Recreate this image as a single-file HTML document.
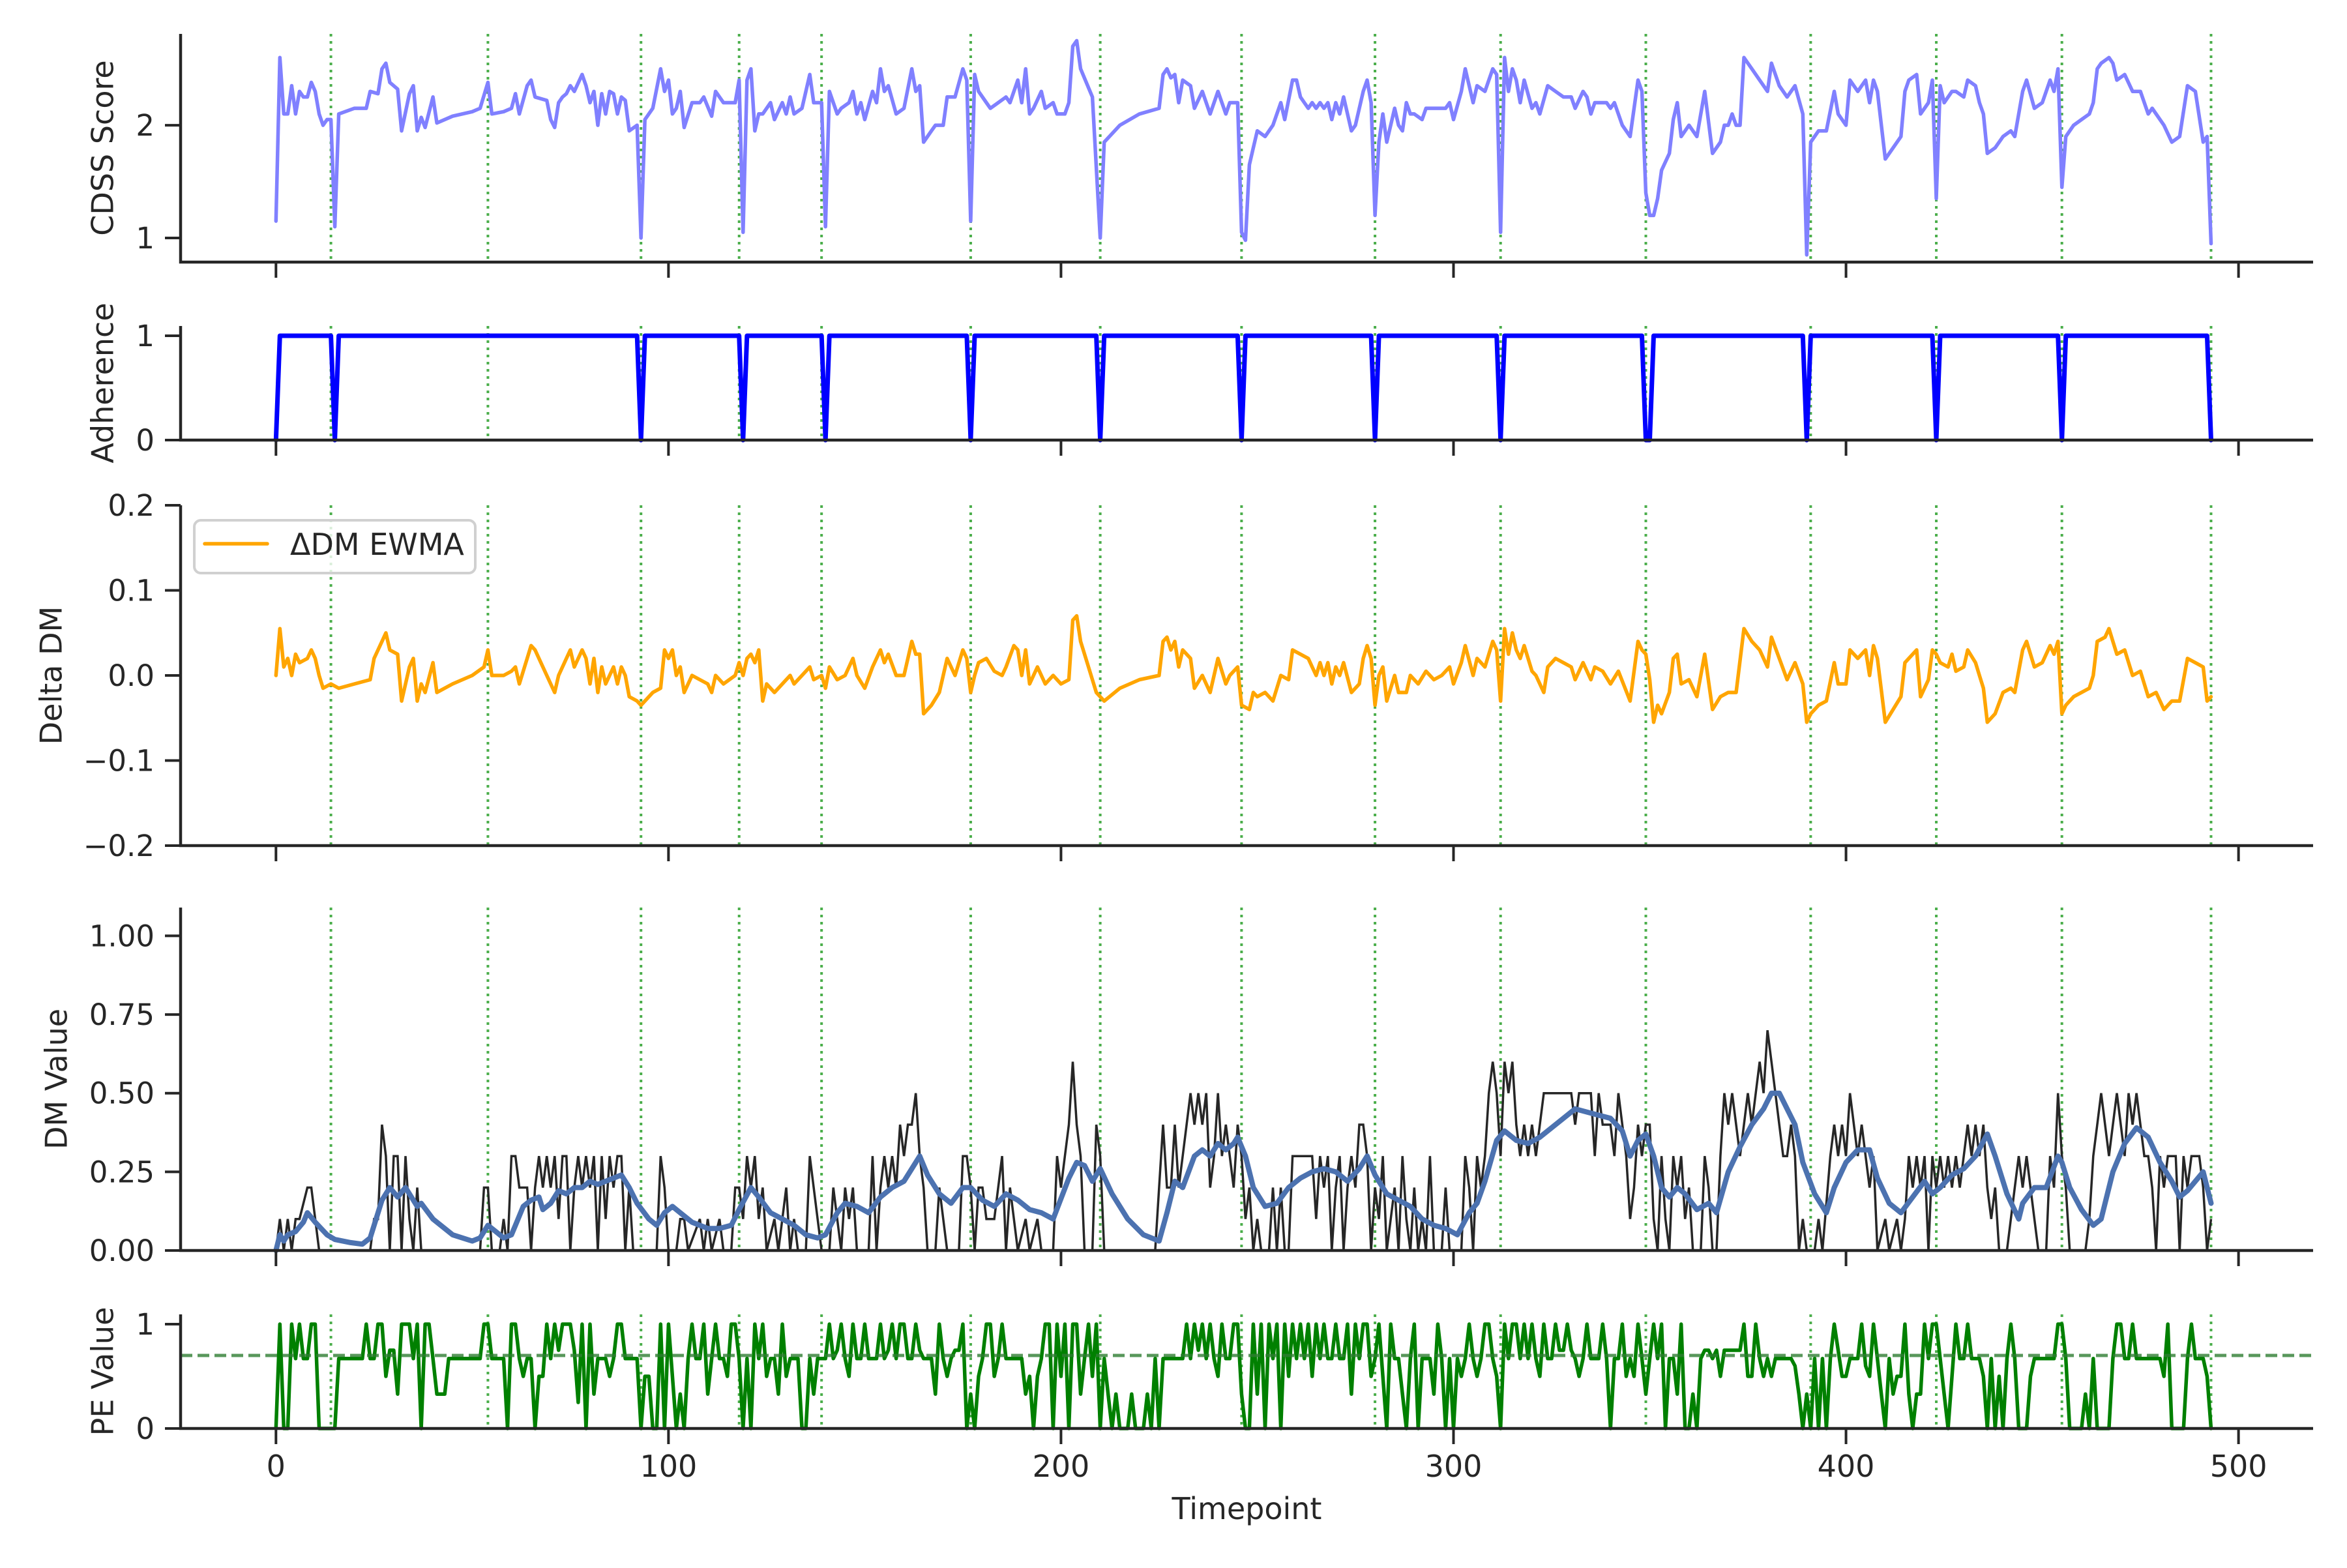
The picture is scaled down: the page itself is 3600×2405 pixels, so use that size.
<!DOCTYPE html>
<html><head><meta charset="utf-8"><style>
html,body{margin:0;padding:0;background:#fff}
svg text{font-family:"DejaVu Sans","Liberation Sans",sans-serif;fill:#262626}
</style></head><body>
<svg id="chart" xmlns="http://www.w3.org/2000/svg" width="3600" height="2400" viewBox="0 0 3600 2400">
<g id="root"></g>
</svg>
<script>
const eventTimes=[14,54,93,118,139,177,210,246,280,312,349,391,423,455,493];
const xTicks=[0,100,200,300,400,500];
const cdssPts=[[0,1.15],[1,2.6],[2,2.1],[3,2.1],[4,2.35],[5,2.1],[6,2.3],[7,2.25],[8,2.25],[9,2.38],[10,2.3],[11,2.1],[12,2.0],[13,2.05],[14,2.05],[15,1.1],[16,2.1],[20,2.15],[23,2.15],[24,2.3],[26,2.28],[27,2.5],[28,2.55],[29,2.38],[31,2.32],[32,1.95],[34,2.28],[35,2.35],[36,1.95],[37,2.07],[38,1.98],[40,2.25],[41,2.02],[45,2.08],[50,2.12],[52,2.15],[54,2.38],[55,2.1],[58,2.12],[60,2.15],[61,2.28],[62,2.1],[64,2.35],[65,2.4],[66,2.25],[69,2.22],[70,2.05],[71,1.98],[72,2.2],[73,2.25],[74,2.28],[75,2.35],[76,2.3],[78,2.45],[79,2.35],[80,2.2],[81,2.3],[82,2.0],[83,2.28],[84,2.1],[85,2.3],[86,2.28],[87,2.1],[88,2.25],[89,2.22],[90,1.95],[92,2.0],[93,1.0],[94,2.05],[96,2.15],[98,2.5],[99,2.3],[100,2.4],[101,2.1],[102,2.15],[103,2.3],[104,1.98],[106,2.2],[108,2.2],[109,2.25],[111,2.08],[112,2.3],[114,2.2],[117,2.2],[118,2.4],[119,1.05],[120,2.4],[121,2.5],[122,1.95],[123,2.1],[124,2.1],[126,2.2],[127,2.05],[129,2.2],[130,2.1],[131,2.25],[132,2.1],[134,2.15],[136,2.45],[137,2.2],[139,2.2],[140,1.1],[141,2.3],[143,2.1],[144,2.15],[146,2.2],[147,2.3],[148,2.1],[149,2.2],[150,2.05],[152,2.3],[153,2.2],[154,2.5],[155,2.3],[156,2.35],[158,2.1],[160,2.15],[162,2.5],[163,2.3],[164,2.35],[165,1.85],[167,1.95],[168,2.0],[170,2.0],[171,2.25],[173,2.25],[175,2.5],[176,2.4],[177,1.15],[178,2.45],[179,2.3],[181,2.2],[182,2.15],[184,2.2],[186,2.25],[187,2.2],[188,2.3],[189,2.4],[190,2.2],[191,2.5],[192,2.1],[193,2.15],[195,2.3],[196,2.15],[198,2.2],[199,2.1],[201,2.1],[202,2.2],[203,2.7],[204,2.75],[205,2.5],[208,2.25],[210,1.0],[211,1.85],[215,2.0],[220,2.1],[225,2.15],[226,2.45],[227,2.5],[228,2.42],[229,2.45],[230,2.2],[231,2.4],[233,2.35],[234,2.15],[236,2.3],[238,2.1],[240,2.3],[242,2.1],[243,2.2],[245,2.2],[246,1.05],[247,0.98],[248,1.65],[249,1.8],[250,1.95],[252,1.9],[254,2.0],[256,2.2],[257,2.05],[259,2.4],[260,2.4],[261,2.25],[262,2.2],[263,2.15],[264,2.2],[265,2.15],[266,2.2],[267,2.15],[268,2.2],[269,2.05],[270,2.2],[271,2.1],[272,2.25],[274,1.95],[275,2.0],[277,2.3],[278,2.4],[279,2.2],[280,1.2],[281,1.85],[282,2.1],[283,1.85],[285,2.15],[286,2.0],[287,1.95],[288,2.2],[289,2.1],[290,2.1],[292,2.05],[293,2.15],[296,2.15],[298,2.15],[299,2.2],[300,2.05],[302,2.3],[303,2.5],[305,2.2],[306,2.35],[308,2.3],[310,2.5],[311,2.45],[312,1.05],[313,2.6],[314,2.3],[315,2.5],[316,2.4],[317,2.2],[318,2.4],[320,2.15],[321,2.2],[322,2.1],[324,2.35],[326,2.3],[328,2.25],[330,2.25],[331,2.15],[333,2.3],[334,2.25],[335,2.1],[336,2.2],[337,2.2],[339,2.2],[340,2.15],[341,2.2],[343,2.0],[345,1.9],[347,2.4],[348,2.3],[349,1.4],[350,1.2],[351,1.2],[352,1.35],[353,1.6],[355,1.75],[356,2.05],[357,2.2],[358,1.9],[360,2.0],[362,1.9],[364,2.3],[366,1.75],[368,1.85],[369,2.0],[370,2.0],[371,2.1],[372,2.0],[373,2.0],[374,2.6],[376,2.5],[378,2.4],[380,2.3],[381,2.55],[383,2.35],[385,2.25],[387,2.35],[389,2.1],[390,0.85],[391,1.85],[393,1.95],[395,1.95],[397,2.3],[398,2.1],[400,2.0],[401,2.4],[403,2.3],[405,2.4],[406,2.2],[407,2.4],[408,2.3],[410,1.7],[412,1.8],[414,1.9],[415,2.3],[416,2.4],[418,2.45],[419,2.1],[421,2.2],[422,2.4],[423,1.35],[424,2.35],[425,2.2],[427,2.3],[428,2.3],[430,2.25],[431,2.4],[433,2.35],[434,2.2],[435,2.1],[436,1.75],[438,1.8],[440,1.9],[442,1.95],[443,1.9],[445,2.3],[446,2.4],[448,2.15],[450,2.2],[452,2.4],[453,2.3],[454,2.5],[455,1.45],[456,1.9],[458,2.0],[460,2.05],[462,2.1],[463,2.2],[464,2.5],[465,2.55],[467,2.6],[468,2.55],[469,2.4],[471,2.45],[473,2.3],[475,2.3],[477,2.1],[478,2.15],[480,2.05],[481,2.0],[483,1.85],[485,1.9],[487,2.35],[489,2.3],[491,1.85],[492,1.9],[493,0.95]];
const adherenceZeros=[0,15,93,119,140,177,210,246,280,312,349,350,390,423,455,493];
const adherenceEnd=493;
const deltaPts=[[0,0],[1,0.055],[2,0.01],[3,0.02],[4,0.0],[5,0.025],[6,0.015],[8,0.02],[9,0.03],[10,0.02],[11,0.0],[12,-0.015],[14,-0.01],[16,-0.015],[20,-0.01],[24,-0.005],[25,0.02],[27,0.04],[28,0.05],[29,0.03],[31,0.025],[32,-0.03],[34,0.01],[35,0.02],[36,-0.03],[37,-0.01],[38,-0.02],[40,0.015],[41,-0.02],[45,-0.01],[50,0.0],[53,0.01],[54,0.03],[55,0.0],[58,0.0],[60,0.005],[61,0.01],[62,-0.01],[64,0.02],[65,0.035],[66,0.03],[68,0.01],[70,-0.01],[71,-0.02],[72,0.0],[74,0.02],[75,0.03],[76,0.01],[78,0.03],[79,0.02],[80,-0.01],[81,0.02],[82,-0.02],[83,0.01],[84,-0.01],[86,0.01],[87,-0.01],[88,0.01],[89,0.0],[90,-0.025],[92,-0.03],[93,-0.035],[94,-0.03],[96,-0.02],[98,-0.015],[99,0.03],[100,0.02],[101,0.03],[102,0.0],[103,0.01],[104,-0.02],[106,0.0],[108,-0.005],[110,-0.01],[111,-0.02],[112,0.0],[114,-0.01],[117,0.0],[118,0.015],[119,0.0],[120,0.02],[121,0.025],[122,0.015],[123,0.03],[124,-0.03],[125,-0.01],[127,-0.02],[129,-0.01],[131,0.0],[132,-0.01],[134,0.0],[136,0.01],[137,-0.005],[139,0.0],[140,-0.015],[141,0.01],[143,-0.005],[145,0.0],[147,0.02],[148,0.0],[150,-0.015],[152,0.01],[154,0.03],[155,0.015],[156,0.025],[158,0.0],[160,0.0],[162,0.04],[163,0.025],[164,0.025],[165,-0.045],[167,-0.035],[169,-0.02],[171,0.02],[173,0.0],[175,0.03],[176,0.02],[177,-0.02],[178,0.0],[179,0.015],[181,0.02],[183,0.005],[185,0.0],[186,0.01],[188,0.035],[189,0.03],[190,0.0],[191,0.03],[192,-0.01],[194,0.01],[196,-0.01],[198,0.0],[200,-0.01],[202,-0.005],[203,0.065],[204,0.07],[205,0.04],[207,0.01],[209,-0.02],[211,-0.03],[215,-0.015],[220,-0.005],[225,0.0],[226,0.04],[227,0.045],[228,0.03],[229,0.04],[230,0.01],[231,0.03],[233,0.02],[234,-0.015],[236,0.0],[238,-0.02],[240,0.02],[242,-0.01],[243,0.0],[245,0.01],[246,-0.035],[248,-0.04],[249,-0.02],[250,-0.025],[252,-0.02],[254,-0.03],[256,0.0],[258,-0.005],[259,0.03],[261,0.025],[263,0.02],[264,0.01],[265,0.0],[266,0.015],[267,0.0],[268,0.015],[269,-0.01],[270,0.01],[271,0.0],[272,0.015],[274,-0.02],[276,-0.01],[277,0.02],[278,0.035],[279,0.02],[280,-0.035],[281,0.0],[282,0.01],[283,-0.03],[285,0.0],[286,-0.02],[288,-0.02],[289,0.0],[291,-0.01],[293,0.005],[295,-0.005],[297,0.0],[299,0.01],[300,-0.01],[302,0.015],[303,0.035],[305,0.0],[306,0.02],[308,0.01],[310,0.04],[311,0.03],[312,-0.03],[313,0.055],[314,0.025],[315,0.05],[316,0.03],[317,0.02],[318,0.035],[320,0.005],[321,0.0],[323,-0.02],[324,0.01],[326,0.02],[328,0.015],[330,0.01],[331,-0.005],[333,0.015],[335,-0.005],[336,0.01],[338,0.005],[340,-0.01],[342,0.005],[345,-0.03],[347,0.04],[348,0.03],[349,0.025],[350,-0.005],[351,-0.055],[352,-0.035],[353,-0.045],[355,-0.02],[356,0.02],[357,0.025],[358,-0.01],[360,-0.005],[362,-0.025],[364,0.025],[366,-0.04],[368,-0.025],[370,-0.02],[372,-0.02],[374,0.055],[376,0.04],[378,0.03],[380,0.01],[381,0.045],[383,0.02],[385,-0.005],[387,0.015],[389,-0.01],[390,-0.055],[391,-0.045],[393,-0.035],[395,-0.03],[397,0.015],[398,-0.01],[400,-0.01],[401,0.03],[403,0.02],[405,0.03],[406,0.0],[407,0.035],[408,0.02],[410,-0.055],[412,-0.04],[414,-0.025],[415,0.015],[416,0.02],[418,0.03],[419,-0.025],[421,-0.005],[422,0.03],[423,0.025],[424,0.015],[426,0.01],[427,0.025],[428,0.005],[430,0.01],[431,0.03],[433,0.015],[434,0.0],[435,-0.015],[436,-0.055],[438,-0.045],[440,-0.02],[442,-0.015],[443,-0.02],[445,0.03],[446,0.04],[448,0.01],[450,0.015],[452,0.035],[453,0.025],[454,0.04],[455,-0.045],[456,-0.035],[458,-0.025],[460,-0.02],[462,-0.015],[463,0.0],[464,0.04],[466,0.045],[467,0.055],[468,0.04],[469,0.025],[471,0.03],[473,0.0],[475,0.005],[477,-0.025],[479,-0.02],[481,-0.04],[483,-0.03],[485,-0.03],[487,0.02],[489,0.015],[491,0.01],[492,-0.03],[493,-0.025]];
const dmRawPts=[[0,0],[1,0.1],[2,0],[3,0.1],[4,0],[5,0.1],[6,0.1],[8,0.2],[9,0.2],[10,0.1],[11,0],[24,0],[25,0.1],[26,0.1],[27,0.4],[28,0.3],[29,0],[30,0.3],[31,0.3],[32,0],[33,0.3],[34,0.1],[35,0],[36,0.2],[37,0],[52,0],[53,0.2],[54,0.2],[55,0],[57,0],[58,0.1],[59,0],[60,0.3],[61,0.3],[62,0.2],[64,0.2],[65,0],[66,0.2],[67,0.3],[68,0.2],[69,0.3],[70,0.2],[71,0.3],[72,0.1],[73,0.3],[74,0.3],[75,0],[76,0.2],[77,0.3],[78,0.2],[79,0.3],[80,0.2],[81,0.3],[82,0],[83,0.3],[84,0.1],[85,0.3],[86,0.2],[87,0.3],[88,0.3],[89,0],[90,0.2],[91,0],[97,0],[98,0.3],[99,0.2],[100,0],[102,0],[103,0.1],[104,0.1],[105,0],[108,0.1],[109,0],[110,0.1],[111,0],[113,0.1],[114,0],[116,0],[117,0.2],[118,0.2],[119,0.1],[120,0.3],[121,0.2],[122,0.3],[123,0.1],[124,0.2],[125,0],[127,0.1],[128,0],[129,0.1],[130,0.2],[131,0],[132,0.1],[133,0],[135,0],[136,0.3],[137,0.2],[138,0.1],[139,0],[141,0],[142,0.2],[143,0.1],[144,0],[145,0.2],[146,0.1],[147,0.2],[148,0],[151,0],[152,0.3],[153,0],[154,0.2],[155,0.3],[156,0.2],[157,0.3],[158,0.2],[159,0.4],[160,0.3],[161,0.4],[162,0.4],[163,0.5],[164,0.3],[165,0.2],[166,0],[168,0],[169,0.2],[170,0.1],[171,0],[174,0],[175,0.3],[176,0.3],[177,0.2],[178,0],[179,0.2],[180,0.2],[181,0.1],[183,0.1],[184,0.2],[185,0.3],[186,0],[187,0.2],[188,0.1],[189,0],[191,0.1],[192,0],[194,0.1],[195,0],[198,0],[199,0.3],[200,0.2],[201,0.3],[202,0.4],[203,0.6],[204,0.4],[205,0.3],[206,0],[208,0],[209,0.4],[210,0.3],[211,0],[224,0],[225,0.2],[226,0.4],[227,0.2],[228,0.2],[229,0.4],[230,0.2],[231,0.3],[232,0.4],[233,0.5],[234,0.4],[235,0.5],[236,0.4],[237,0.5],[238,0.2],[239,0.3],[240,0.5],[241,0.3],[242,0.4],[243,0.3],[244,0.2],[245,0.4],[246,0.3],[247,0.1],[248,0.2],[249,0],[250,0.1],[251,0],[253,0],[254,0.2],[255,0],[256,0.2],[257,0],[258,0],[259,0.3],[264,0.3],[265,0.1],[266,0.3],[267,0.2],[268,0.3],[269,0],[270,0.2],[271,0.3],[272,0],[273,0.2],[274,0.3],[275,0.2],[276,0.4],[277,0.4],[278,0.3],[279,0],[280,0.2],[281,0.1],[282,0.3],[283,0],[284,0.1],[285,0.2],[286,0],[287,0.3],[288,0.1],[289,0],[290,0.2],[291,0],[292,0.1],[293,0],[294,0.3],[295,0],[297,0],[298,0.2],[299,0],[302,0],[303,0.3],[304,0.2],[305,0],[306,0.3],[307,0.2],[308,0.3],[309,0.5],[310,0.6],[311,0.5],[312,0.3],[313,0.6],[314,0.5],[315,0.6],[316,0.4],[317,0.3],[318,0.4],[319,0.3],[320,0.4],[321,0.3],[322,0.4],[323,0.5],[330,0.5],[331,0.4],[332,0.5],[335,0.5],[336,0.3],[337,0.5],[338,0.4],[340,0.4],[341,0.3],[342,0.5],[343,0.4],[344,0.3],[345,0.1],[346,0.2],[347,0.4],[348,0.3],[349,0.4],[350,0.4],[351,0.1],[352,0],[353,0.3],[354,0.1],[355,0],[356,0.3],[357,0.2],[358,0.3],[359,0.1],[360,0.2],[361,0],[363,0],[364,0.3],[365,0.2],[366,0],[367,0],[368,0.3],[369,0.5],[370,0.4],[371,0.5],[372,0.4],[373,0.3],[374,0.4],[375,0.5],[376,0.4],[377,0.5],[378,0.6],[379,0.5],[380,0.7],[381,0.6],[382,0.5],[383,0.4],[384,0.3],[385,0.3],[386,0.4],[387,0.3],[388,0],[389,0.1],[390,0],[392,0],[393,0.1],[394,0],[396,0.3],[397,0.4],[398,0.3],[399,0.4],[400,0.3],[401,0.5],[402,0.4],[403,0.3],[404,0.4],[405,0.3],[406,0.2],[407,0.3],[408,0],[410,0.1],[411,0],[413,0.1],[414,0],[415,0.1],[416,0.3],[417,0.2],[418,0.3],[419,0.2],[420,0.3],[421,0],[422,0.3],[423,0.2],[424,0.3],[425,0.2],[426,0.3],[427,0.2],[428,0.3],[429,0.2],[431,0.4],[432,0.3],[433,0.4],[434,0.3],[435,0.4],[436,0.2],[437,0.1],[438,0.2],[439,0],[441,0],[442,0.1],[443,0.2],[444,0.3],[445,0.2],[446,0.3],[447,0.2],[448,0.1],[449,0],[451,0],[452,0.3],[453,0.2],[454,0.5],[455,0.3],[456,0.2],[457,0],[461,0],[462,0.1],[463,0.3],[464,0.4],[465,0.5],[466,0.4],[467,0.3],[468,0.4],[469,0.5],[470,0.4],[471,0.3],[472,0.5],[473,0.4],[474,0.5],[475,0.4],[476,0.3],[477,0.3],[478,0.2],[479,0],[480,0.3],[481,0.2],[482,0.3],[484,0.3],[485,0],[486,0.3],[487,0.2],[488,0.3],[490,0.3],[491,0.2],[492,0],[493,0.1]];
const dmEwmaPts=[[0,0],[1,0.05],[2,0.03],[3,0.05],[5,0.06],[7,0.09],[8,0.12],[10,0.09],[13,0.05],[15,0.035],[19,0.025],[22,0.02],[24,0.04],[25,0.08],[27,0.16],[29,0.2],[31,0.17],[33,0.2],[35,0.16],[36,0.14],[37,0.15],[40,0.1],[45,0.05],[50,0.03],[52,0.04],[54,0.08],[56,0.06],[58,0.04],[60,0.05],[61,0.08],[63,0.14],[65,0.16],[67,0.17],[68,0.13],[70,0.15],[72,0.19],[74,0.18],[76,0.2],[78,0.2],[80,0.22],[82,0.21],[84,0.22],[86,0.23],[88,0.24],[90,0.2],[92,0.15],[95,0.1],[97,0.08],[99,0.12],[101,0.14],[103,0.12],[106,0.09],[110,0.07],[113,0.07],[116,0.08],[118,0.13],[121,0.2],[123,0.17],[126,0.12],[129,0.1],[132,0.08],[135,0.05],[138,0.04],[140,0.05],[143,0.12],[145,0.15],[148,0.14],[151,0.12],[154,0.17],[157,0.2],[160,0.22],[163,0.28],[164,0.3],[166,0.24],[169,0.18],[172,0.15],[175,0.2],[177,0.2],[180,0.16],[183,0.14],[186,0.18],[189,0.16],[192,0.13],[195,0.12],[198,0.1],[202,0.23],[204,0.28],[206,0.27],[208,0.22],[210,0.26],[213,0.18],[217,0.1],[221,0.05],[225,0.03],[227,0.12],[229,0.22],[231,0.2],[234,0.3],[236,0.32],[238,0.3],[240,0.34],[242,0.32],[244,0.34],[245,0.36],[247,0.3],[249,0.2],[252,0.14],[255,0.15],[258,0.2],[261,0.23],[264,0.25],[267,0.26],[270,0.25],[273,0.22],[276,0.26],[278,0.3],[280,0.24],[283,0.18],[286,0.16],[289,0.14],[292,0.1],[295,0.08],[298,0.07],[301,0.05],[304,0.12],[306,0.15],[308,0.22],[311,0.35],[313,0.38],[316,0.35],[319,0.34],[322,0.36],[325,0.39],[328,0.42],[331,0.45],[334,0.44],[337,0.43],[340,0.42],[343,0.38],[345,0.3],[347,0.35],[349,0.37],[351,0.3],[353,0.2],[355,0.17],[357,0.2],[359,0.18],[362,0.13],[365,0.15],[367,0.12],[370,0.25],[373,0.33],[376,0.4],[379,0.45],[381,0.5],[383,0.5],[385,0.45],[387,0.4],[389,0.28],[392,0.18],[395,0.12],[397,0.2],[400,0.28],[403,0.32],[406,0.32],[408,0.23],[411,0.15],[414,0.12],[417,0.17],[420,0.22],[422,0.18],[424,0.2],[427,0.24],[430,0.26],[433,0.3],[436,0.37],[438,0.3],[441,0.18],[444,0.1],[445,0.15],[448,0.2],[451,0.2],[454,0.3],[455,0.28],[457,0.2],[460,0.13],[463,0.08],[465,0.1],[468,0.25],[471,0.34],[474,0.39],[477,0.36],[480,0.28],[483,0.22],[485,0.17],[487,0.19],[489,0.22],[491,0.25],[493,0.15]];
const pePts=[[0,0],[1,1],[2,0],[3,0],[4,1],[5,0.67],[6,1],[7,0.67],[8,0.67],[9,1],[10,1],[11,0],[15,0],[16,0.67],[22,0.67],[23,1],[24,0.67],[25,0.67],[26,1],[27,1],[28,0.5],[29,0.75],[30,0.75],[31,0.33],[32,1],[34,1],[35,0.67],[36,1],[37,0],[38,1],[39,1],[40,0.67],[41,0.33],[43,0.33],[44,0.67],[52,0.67],[53,1],[54,1],[55,0.67],[58,0.67],[59,0],[60,1],[61,1],[62,0.67],[63,0.5],[64,0.67],[65,0.67],[66,0],[67,0.5],[68,0.5],[69,1],[70,0.67],[71,1],[72,0.75],[73,1],[75,1],[76,0.75],[77,0.25],[78,1],[79,0],[80,1],[81,0.33],[82,0.67],[84,0.67],[85,0.5],[86,0.67],[87,1],[88,1],[89,0.67],[92,0.67],[93,0],[94,0.5],[95,0.5],[96,0],[97,0],[98,1],[99,0],[100,1],[101,0.5],[102,0],[103,0.33],[104,0],[105,0.67],[106,1],[107,0.67],[108,0.67],[109,1],[110,0.33],[111,0.67],[112,1],[113,0.67],[114,0.67],[115,0.5],[116,1],[117,1],[118,0.67],[119,0],[120,0.67],[121,0],[122,1],[123,0.67],[124,1],[125,0.5],[126,0.67],[127,0.67],[128,0.33],[129,1],[130,0.5],[131,0.67],[133,0.67],[134,0],[135,0],[136,0.67],[137,0.33],[138,0.67],[140,0.67],[141,1],[142,0.67],[143,0.75],[144,1],[145,0.67],[146,0.5],[147,1],[148,0.67],[149,0.67],[150,1],[151,0.67],[153,0.67],[154,1],[155,0.67],[156,0.75],[157,1],[158,0.67],[159,1],[160,1],[161,0.67],[162,0.67],[163,1],[164,0.75],[165,0.67],[167,0.67],[168,0.33],[169,1],[170,0.67],[171,0.5],[172,0.67],[173,0.75],[174,0.75],[175,1],[176,0],[177,0.33],[178,0],[179,0.5],[180,0.67],[181,1],[182,1],[183,0.5],[184,0.67],[185,1],[186,0.67],[190,0.67],[191,0.33],[192,0.5],[193,0],[194,0.5],[195,0.67],[196,1],[197,1],[198,0],[199,1],[200,0.5],[201,1],[202,0],[203,1],[204,1],[205,0.33],[206,0.67],[207,1],[208,0.5],[209,1],[210,0],[211,0.67],[212,0.33],[213,0],[214,0.33],[215,0],[217,0],[218,0.33],[219,0],[221,0],[222,0.33],[223,0],[224,0.67],[225,0],[226,0.67],[231,0.67],[232,1],[233,0.67],[234,1],[235,0.75],[236,1],[237,0.67],[238,1],[239,0.67],[240,0.5],[241,1],[242,0.67],[243,0.67],[244,1],[245,1],[246,0.33],[247,0],[248,0],[249,1],[250,0.33],[251,1],[252,0],[253,1],[254,0.67],[255,1],[256,0],[257,1],[258,0.5],[259,1],[260,0.67],[261,1],[262,0.67],[263,1],[264,0.5],[265,1],[266,0.67],[267,1],[268,0.67],[269,0.67],[270,1],[271,0.67],[272,0.67],[273,1],[274,0.33],[275,1],[276,0.67],[277,1],[278,1],[279,0.5],[280,0.67],[281,1],[282,0.5],[283,0],[284,1],[285,0.67],[286,0.67],[287,0.33],[288,0],[289,0.67],[290,1],[291,0],[292,0.67],[294,0.67],[295,0.33],[296,1],[297,0.67],[298,0],[299,0.67],[300,0],[301,0.67],[302,0.5],[303,0.67],[304,1],[305,0.67],[306,0.5],[307,0.67],[308,1],[309,1],[310,0.67],[311,0.5],[312,0],[313,1],[314,0.67],[315,1],[316,1],[317,0.67],[318,1],[319,0.67],[320,1],[321,0.67],[322,0.5],[323,1],[324,0.67],[325,0.67],[326,1],[327,0.75],[328,0.75],[329,1],[330,0.75],[331,0.67],[332,0.5],[333,0.67],[334,1],[335,0.67],[337,0.67],[338,1],[339,0.67],[340,0],[341,0.67],[342,0.67],[343,1],[344,0.5],[345,0.67],[346,0.5],[347,1],[348,0.67],[349,0.33],[350,0.67],[351,1],[352,0.67],[353,1],[354,0],[355,0.67],[356,0.67],[357,0.33],[358,1],[359,0],[360,0],[361,0.33],[362,0],[363,0.67],[364,0.75],[365,0.75],[366,0.67],[367,0.75],[368,0.5],[369,0.75],[370,0.75],[372,0.75],[373,0.75],[374,1],[375,0.5],[376,0.5],[377,1],[378,0.67],[379,0.5],[380,0.67],[381,0.5],[382,0.67],[383,0.67],[384,0.67],[385,0.67],[386,0.67],[387,0.6],[388,0.33],[389,0],[390,0.33],[391,0],[392,0.67],[393,0],[394,0.67],[395,0],[396,0.67],[397,1],[398,0.75],[399,0.5],[400,0.5],[401,0.67],[402,0.67],[403,0.67],[404,1],[405,0.6],[406,0.5],[407,1],[408,0.67],[409,0.33],[410,0],[411,0.67],[412,0.33],[413,0.5],[414,0.5],[415,1],[416,0.33],[417,0],[418,0.33],[419,0.33],[420,1],[421,0.67],[422,1],[423,1],[424,0.67],[425,0.33],[426,0],[427,0.5],[428,1],[429,0.67],[430,0.67],[431,1],[432,0.67],[433,0.67],[434,0.67],[435,0.5],[436,0],[437,0.67],[438,0],[439,0.5],[440,0],[441,0.67],[442,1],[443,0.67],[444,0],[445,0],[446,0],[447,0.5],[448,0.67],[449,0.67],[450,0.67],[451,0.67],[452,0.67],[453,0.67],[454,1],[455,1],[456,0.67],[457,0],[458,0],[459,0],[460,0],[461,0.33],[462,0],[463,0.67],[464,0],[465,0],[466,0],[467,0],[468,0.67],[469,1],[470,1],[471,0.67],[472,0.67],[473,1],[474,0.67],[475,0.67],[476,0.67],[477,0.67],[478,0.67],[479,0.67],[480,0.67],[481,0.5],[482,1],[483,0],[484,0],[485,0],[486,0],[487,0.67],[488,1],[489,0.67],[490,0.67],[491,0.67],[492,0.5],[493,0]];
const peThreshold=0.7;
const cdssTicks=[1,2];
const adhTicks=[0,1];
const deltaTicks=[-0.2,-0.1,0,0.1,0.2];
const dmTicks=[0,0.25,0.5,0.75,1.0];
const peTicks=[0,1];

const NS='http://www.w3.org/2000/svg';
const root=document.getElementById('root');
const X0=277,X1=3548,T0=-24.3,T1=519;
function xs(t){return X0+(t-T0)/(T1-T0)*(X1-X0);}
function mk(tag,attrs,parent){const e=document.createElementNS(NS,tag);for(const k in attrs)e.setAttribute(k,attrs[k]);(parent||root).appendChild(e);return e;}
function fmt(v,d){let s=v.toFixed(d);if(v<0)s='\u2212'+s.slice(1);return s;}

const panels=[
 {name:'cdss',top:52,bot:402,vmin:0.786,vmax:2.81,ticks:cdssTicks,dec:0,label:'CDSS Score',lx:161},
 {name:'adherence',top:500,bot:675,vmin:0,vmax:1.094,ticks:adhTicks,dec:0,label:'Adherence',lx:161},
 {name:'delta',top:775,bot:1297,vmin:-0.2,vmax:0.2,ticks:deltaTicks,dec:1,label:'Delta DM',lx:82},
 {name:'dm',top:1392,bot:1918,vmin:0,vmax:1.09,ticks:dmTicks,dec:2,label:'DM Value',lx:90},
 {name:'pe',top:2016,bot:2191,vmin:0,vmax:1.094,ticks:peTicks,dec:0,label:'PE Value',lx:161}
];
function ys(p,v){return p.bot-(v-p.vmin)/(p.vmax-p.vmin)*(p.bot-p.top);}
function line(p,pts,attrs,name){
  const d=pts.map((q,i)=>(i?'L':'M')+xs(q[0]).toFixed(1)+','+ys(p,q[1]).toFixed(1)).join('');
  const el=mk('path',Object.assign({d:d,fill:'none','stroke-linejoin':'round','stroke-linecap':'round'},attrs));
  
  
  return el;
}
const adhPts=[];
for(let t=0;t<=adherenceEnd;t++){adhPts.push([t,adherenceZeros.includes(t)?0:1]);}

panels.forEach((p,pi)=>{
  const g=mk('g',{});
  
  
  eventTimes.forEach(t=>{
    const l=mk('line',{x1:xs(t),x2:xs(t),y1:p.top,y2:p.bot,stroke:'#2ca02c','stroke-opacity':0.85,'stroke-width':4,'stroke-dasharray':'4,7'});
    
    
  });
  if(p.name==='cdss')line(p,cdssPts,{stroke:'#8080ff','stroke-width':5.5},'cdss-line');
  if(p.name==='adherence')line(p,adhPts,{stroke:'#0000ff','stroke-width':7},'adherence-line');
  if(p.name==='delta')line(p,deltaPts,{stroke:'#ffa500','stroke-width':5.5},'delta-dm-ewma-line');
  if(p.name==='dm'){line(p,dmRawPts,{stroke:'#262626','stroke-width':3.5,'stroke-linejoin':'miter','stroke-linecap':'butt'},'dm-raw-line');line(p,dmEwmaPts,{stroke:'#4c72b0','stroke-width':8},'dm-ewma-line');}
  if(p.name==='pe'){
    line(p,pePts,{stroke:'#008000','stroke-width':5.5},'pe-line');
    const th=mk('line',{x1:X0,x2:X1,y1:ys(p,peThreshold),y2:ys(p,peThreshold),stroke:'#2e7d32','stroke-opacity':0.8,'stroke-width':5,'stroke-dasharray':'18,8'});
    
    
  }
  const sp=mk('path',{d:`M${X0},${p.top}L${X0},${p.bot}L${X1},${p.bot}`,fill:'none',stroke:'#262626','stroke-width':4.5});
  
  
  p.ticks.forEach(v=>{
    const y=ys(p,v);
    const tk=mk('line',{x1:X0-24,x2:X0,y1:y,y2:y,stroke:'#262626','stroke-width':4});
    
    
    const tx=mk('text',{x:X0-40,y:y+16,'text-anchor':'end','font-size':45});
    tx.textContent=fmt(v,p.dec);
    
    
  });
  xTicks.forEach(t=>{
    const tk=mk('line',{x1:xs(t),x2:xs(t),y1:p.bot,y2:p.bot+24,stroke:'#262626','stroke-width':4});
    
    
    if(pi===panels.length-1){
      const tx=mk('text',{x:xs(t),y:2265,'text-anchor':'middle','font-size':46});
      tx.textContent=String(t);
      
      
    }
  });
  const cy=(p.top+p.bot)/2;
  const lb=mk('text',{x:p.lx,y:cy,'text-anchor':'middle','font-size':46,transform:`rotate(-90 ${p.lx} ${cy})`,'dominant-baseline':'middle'});
  lb.textContent=p.label;
  
  
});
const lg=mk('g',{});


const lbx=mk('rect',{x:298,y:798,width:431,height:81,rx:10,fill:'#fff','fill-opacity':0.8,stroke:'#d0d0d0','stroke-width':4},lg);


const ll=mk('line',{x1:314,x2:410,y1:834,y2:834,stroke:'#ffa500','stroke-width':5.5,'stroke-linecap':'round'},lg);


const lt=mk('text',{x:445,y:851,'font-size':46},lg);
lt.textContent='\u0394DM EWMA';


const xl=mk('text',{x:(X0+X1)/2,y:2330,'text-anchor':'middle','font-size':46});
xl.textContent='Timepoint';


</script>
</body></html>
